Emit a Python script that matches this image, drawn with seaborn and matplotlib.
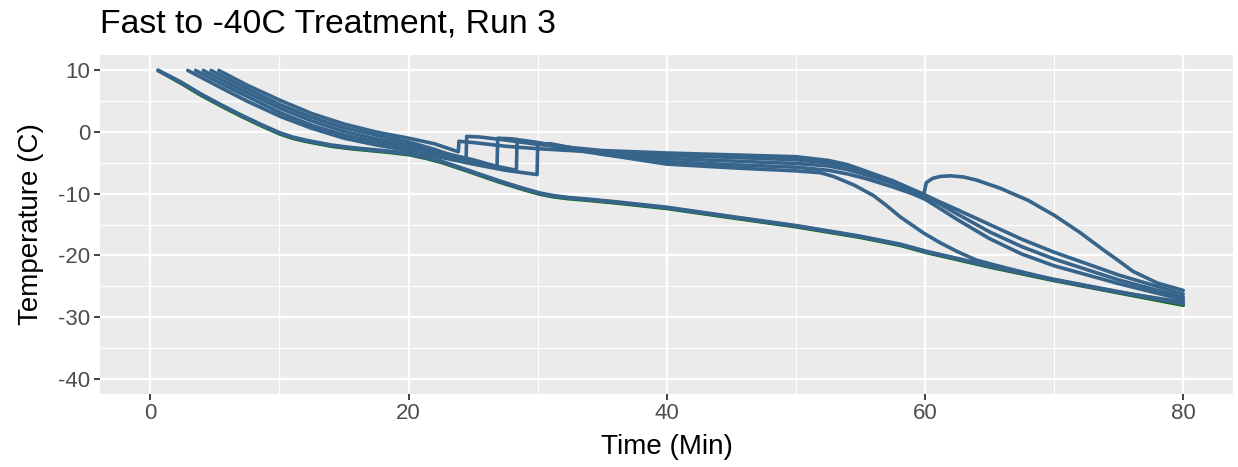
import matplotlib
matplotlib.use("Agg")
import matplotlib.pyplot as plt
from matplotlib.ticker import MultipleLocator
import numpy as np
import pandas as pd
import seaborn as sns

# ---- thermocouple traces (time in minutes, temperature in C) ----
# chamber / reference probe
chamber_t = [0.6, 2.3, 3.9, 5.5, 7.0, 8.5, 10.0, 11.0, 12.0, 13.0, 14.0, 15.5, 17.0,
             18.5, 20.1, 21.4, 22.5, 24.5, 27.0, 29.0, 30.2, 31.2, 32.3, 34.0, 36.0,
             40.0, 45.0, 50.1, 55.0, 58.1, 60.2, 65.0, 70.0, 75.0, 80.0]
chamber_T = [10.0, 8.0, 6.0, 4.2, 2.6, 1.1, -0.3, -1.0, -1.5, -1.9, -2.3, -2.7, -3.0,
             -3.3, -3.7, -4.3, -4.9, -6.3, -8.1, -9.4, -10.1, -10.5, -10.8, -11.1, -11.5,
             -12.4, -13.9, -15.4, -17.1, -18.4, -19.6, -21.9, -24.1, -26.1, -28.1]

# samples that tracked the chamber
low1_t = chamber_t
low1_T = [10.0, 8.2, 6.2, 4.4, 2.8, 1.3, -0.1, -0.8, -1.3, -1.7, -2.1, -2.5, -2.8,
          -3.1, -3.5, -4.1, -4.7, -6.1, -7.9, -9.2, -9.9, -10.3, -10.6, -10.9, -11.3,
          -12.2, -13.7, -15.2, -16.9, -18.2, -19.4, -21.7, -23.9, -25.9, -27.8]
low2_t = chamber_t
low2_T = [10.0, 8.1, 6.1, 4.3, 2.7, 1.2, -0.2, -0.9, -1.4, -1.8, -2.2, -2.6, -2.9,
          -3.2, -3.6, -4.2, -4.8, -6.2, -8.0, -9.3, -10.0, -10.4, -10.7, -11.0, -11.4,
          -12.3, -13.8, -15.3, -17.0, -18.3, -19.5, -21.8, -24.0, -26.0, -27.6]

# samples with freezing exotherms
s1_t = [5.3, 7.5, 10.1, 12.5, 15.0, 17.5, 20.0, 22.0, 23.85, 23.9, 25.0, 27.5, 30.0,
        35.0, 40.0, 45.0, 50.0, 52.5, 54.0, 55.5, 57.5, 59.0, 60.0, 61.0, 62.5, 65.0,
        67.5, 70.0, 75.0, 80.0]
s1_T = [10.0, 7.6, 5.1, 3.0, 1.3, 0.0, -1.0, -1.9, -3.2, -1.5, -1.7, -2.3, -2.7,
        -3.3, -3.8, -4.1, -4.5, -5.0, -5.7, -6.7, -8.2, -9.5, -10.4, -11.5, -13.3, -16.2,
        -18.6, -20.6, -24.0, -26.8]

s2_t = [4.7, 7.0, 10.1, 12.5, 15.0, 17.5, 20.0, 22.0, 24.45, 24.5, 25.5, 27.5, 30.0,
        35.0, 40.0, 45.0, 50.0, 52.5, 54.0, 55.5, 57.5, 59.9, 60.1, 60.6, 61.2, 62.0,
        63.0, 64.0, 65.8, 68.0, 70.0, 72.0, 73.6, 75.0, 76.1, 78.0, 80.0]
s2_T = [10.0, 7.5, 4.4, 2.4, 0.7, -0.5, -1.6, -2.8, -4.6, -0.7, -0.8, -1.3, -2.0,
        -3.0, -3.4, -3.7, -4.0, -4.6, -5.3, -6.4, -7.9, -10.1, -8.2, -7.5, -7.2, -7.1,
        -7.3, -7.8, -9.1, -11.1, -13.5, -16.3, -18.8, -20.9, -22.6, -24.5, -25.7]

s3_t = [4.1, 6.5, 10.1, 12.5, 15.0, 17.5, 20.0, 22.5, 25.0, 26.85, 26.9, 28.0, 30.0,
        32.5, 35.0, 40.0, 45.0, 50.0, 52.5, 54.0, 55.5, 57.5, 59.0, 60.0, 61.0, 62.5,
        65.0, 67.5, 70.0, 75.0, 80.0]
s3_T = [10.0, 7.4, 3.8, 1.8, 0.1, -1.1, -2.1, -3.3, -4.5, -5.6, -1.0, -1.1, -1.7,
        -2.6, -3.3, -4.3, -4.7, -5.1, -5.5, -6.1, -7.0, -8.3, -9.5, -10.2, -11.2, -12.6,
        -15.0, -17.4, -19.5, -23.2, -26.3]

s4_t = [3.5, 6.0, 10.1, 12.5, 15.0, 17.5, 20.0, 22.5, 25.0, 28.35, 28.4, 29.5, 32.5,
        35.0, 40.0, 45.0, 50.0, 52.5, 54.0, 55.5, 57.5, 59.0, 60.0, 61.0, 62.5, 65.0,
        67.5, 70.0, 75.0, 80.0]
s4_T = [10.0, 7.3, 3.1, 1.1, -0.5, -1.6, -2.5, -3.6, -4.8, -6.2, -1.5, -1.6, -2.8,
        -3.6, -4.8, -5.3, -5.7, -6.2, -6.8, -7.6, -8.9, -10.0, -10.9, -12.2, -14.2, -17.3,
        -19.8, -21.7, -24.6, -27.2]

s5_t = [2.9, 5.0, 7.5, 10.1, 12.5, 15.0, 17.5, 20.0, 22.5, 25.0, 27.5, 29.95, 30.0,
        31.0, 33.0, 35.0, 40.0, 45.0, 50.0, 51.9, 52.9, 54.5, 56.0, 57.0, 58.1, 59.9,
        61.2, 62.5, 64.0, 66.0, 70.0, 75.0, 80.0]
s5_T = [10.0, 7.7, 5.0, 2.5, 0.6, -1.0, -2.1, -3.0, -4.1, -5.2, -6.2, -6.9, -2.0,
        -1.9, -2.7, -3.6, -5.2, -5.8, -6.3, -6.6, -7.2, -8.6, -10.3, -11.9, -13.8, -16.4,
        -18.0, -19.4, -20.8, -21.9, -24.0, -26.0, -27.9]

traces = {
    "Chamber": (chamber_t, chamber_T, "chamber"),
    "Sample A": (low1_t, low1_T, "sample"),
    "Sample B": (low2_t, low2_T, "sample"),
    "Sample C": (s1_t, s1_T, "sample"),
    "Sample D": (s2_t, s2_T, "sample"),
    "Sample E": (s3_t, s3_T, "sample"),
    "Sample F": (s4_t, s4_T, "sample"),
    "Sample G": (s5_t, s5_T, "sample"),
}

frames = []
for name, (t, T, kind) in traces.items():
    frames.append(pd.DataFrame({"sensor": name, "kind": kind, "time": t, "temp": T}))
df = pd.concat(frames, ignore_index=True)

# ---- ggplot-like theme ----
sns.set_theme(style="darkgrid", rc={
    "axes.facecolor": "#EBEBEB",
    "figure.facecolor": "white",
    "grid.color": "white",
    "axes.edgecolor": "#EBEBEB",
    "axes.linewidth": 0,
    "xtick.color": "#333333",
    "ytick.color": "#333333",
    "xtick.labelcolor": "#4D4D4D",
    "ytick.labelcolor": "#4D4D4D",
    "xtick.bottom": True,
    "ytick.left": True,
})
plt.rcParams["font.family"] = ["Liberation Sans", "DejaVu Sans"]
plt.rcParams["axes.unicode_minus"] = False

fig = plt.figure(figsize=(12.38, 4.67), dpi=100)
W, H = 1238, 467
ax = fig.add_axes([100 / W, (H - 394) / H, 1133 / W, 339 / H])

sns.lineplot(data=df[df["kind"] == "chamber"], x="time", y="temp", units="sensor",
             estimator=None, sort=False, color="#0B6B0B", linewidth=2.6, ax=ax,
             legend=False)
sns.lineplot(data=df[df["kind"] == "sample"], x="time", y="temp", units="sensor",
             estimator=None, sort=False, color="#36648B", linewidth=2.6, ax=ax,
             legend=False)

ax.set_xlim(-3.9, 83.85)
ax.set_ylim(-42.5, 12.5)
ax.xaxis.set_major_locator(MultipleLocator(20))
ax.xaxis.set_minor_locator(MultipleLocator(10))
ax.yaxis.set_major_locator(MultipleLocator(10))
ax.yaxis.set_minor_locator(MultipleLocator(5))
ax.grid(which="major", color="white", linewidth=1.6)
ax.grid(which="minor", color="white", linewidth=0.8)
ax.set_axisbelow(True)
for s in ax.spines.values():
    s.set_visible(False)

ax.tick_params(axis="both", which="major", length=4.3, width=1.3, pad=2.5,
               labelsize=16, colors="#333333")
ax.tick_params(axis="both", which="major", labelcolor="#4D4D4D")
ax.tick_params(axis="both", which="minor", length=0)

ax.set_xlabel("Time (Min)", fontsize=20, color="black", labelpad=7)
ax.set_ylabel("Temperature (C)", fontsize=20, color="black", labelpad=10)
fig.text(100 / W, 1 - 24 / H, "Fast to -40C Treatment, Run 3", fontsize=24.3,
         color="black", ha="left", va="center")

fig.savefig("out.png", dpi=100)
